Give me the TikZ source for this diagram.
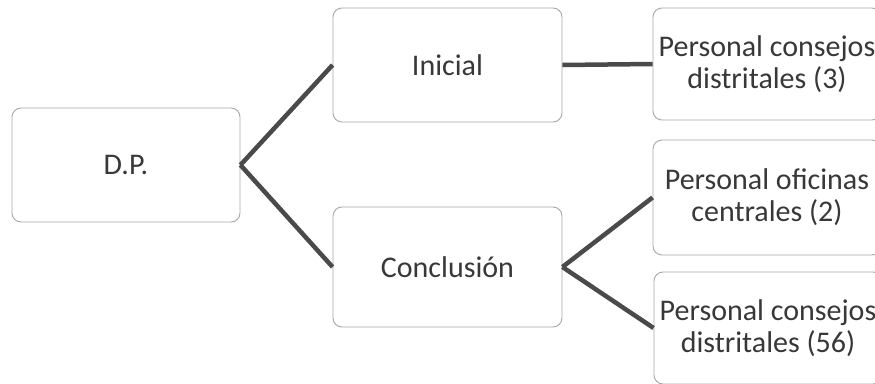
\documentclass[tikz,border=0pt]{standalone}
\usepackage{fontspec}
\setmainfont{Carlito}
\definecolor{boxgray}{HTML}{A8A8A8}
\definecolor{txtgray}{HTML}{383838}
\definecolor{linegray}{HTML}{4A4A4A}
\begin{document}
\begin{tikzpicture}[x=1pt,y=-1pt,
  box/.style={draw=boxgray, line width=0.9pt, rounded corners=9pt, fill=white, align=center, text=txtgray, font=\fontsize{30}{32}\selectfont, inner sep=0pt, anchor=center},
  conn/.style={draw=linegray, line width=4.5pt}]
\useasboundingbox (0,0) rectangle (875,383);
\clip (0,0) rectangle (875,383);
\fill[white] (0,0) rectangle (875,383);
\node[box, minimum width=228pt, minimum height=114pt] (dp) at (126,165) {D.P.};
\node[box, minimum width=229pt, minimum height=114pt] (ini) at (447.5,65) {Inicial};
\node[box, minimum width=229pt, minimum height=120pt] (con) at (447.5,267) {Conclusión};
\node[box, minimum width=228pt, minimum height=112pt] (r1) at (767,64) {Personal consejos\\distritales (3)};
\node[box, minimum width=228pt, minimum height=115pt] (r2) at (767,197.5) {Personal oficinas\\centrales (2)};
\node[box, minimum width=228pt, minimum height=112pt] (r3) at (768,328) {Personal consejos\\distritales (56)};
\draw[conn] (dp.east) -- (ini.west);
\draw[conn] (dp.east) -- (con.west);
\draw[conn] (ini.east) -- (r1.west);
\draw[conn] (con.east) -- (r2.west);
\draw[conn] (con.east) -- (r3.west);
\end{tikzpicture}
\end{document}
